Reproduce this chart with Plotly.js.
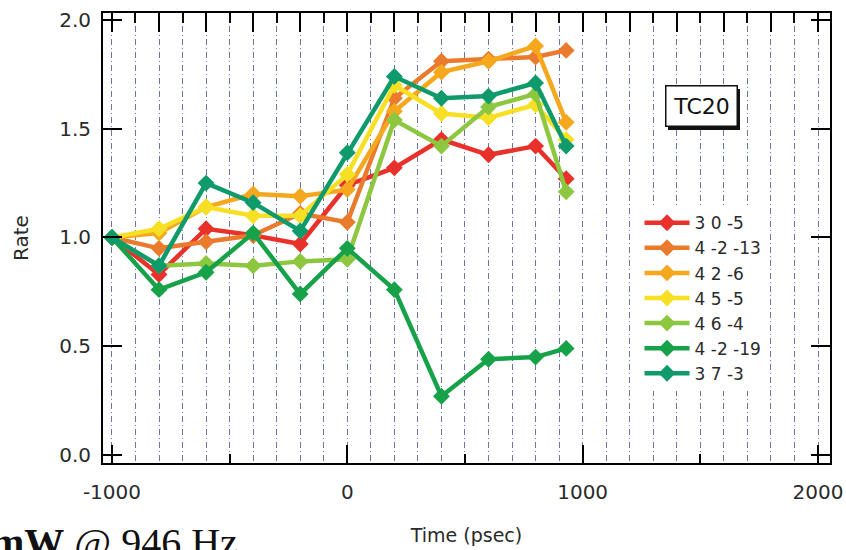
<!DOCTYPE html>
<html>
<head>
<meta charset="utf-8">
<script src="https://cdn.plot.ly/plotly-3.0.1.min.js"></script>
<style>html,body{margin:0;padding:0;background:#fff;}#chart{width:846px;height:550px;}</style>
</head>
<body>
<div id="chart"></div>
<script>
const timePs = [-1000, -800, -600, -400, -200, 0, 200, 400, 600, 800, 930];

const seriesNames = ["3 0 -5", "4 -2 -13", "4 2 -6", "4 5 -5", "4 6 -4", "4 -2 -19", "3 7 -3"];
const seriesColors = ["#e8312a", "#ea7a2c", "#f5a81e", "#f7e024", "#8dc63f", "#17a24a", "#0f9a6c"];

const rate_3_0_m5   = [1.00, 0.83, 1.04, 1.01, 0.97, 1.24, 1.32, 1.45, 1.38, 1.42, 1.27];
const rate_4_m2_m13 = [1.00, 0.95, 0.98, 1.01, 1.11, 1.07, 1.64, 1.81, 1.82, 1.83, 1.86];
const rate_4_2_m6   = [1.00, 1.02, 1.14, 1.20, 1.19, 1.22, 1.58, 1.76, 1.81, 1.88, 1.53];
const rate_4_5_m5   = [1.00, 1.04, 1.14, 1.10, 1.10, 1.29, 1.70, 1.57, 1.55, 1.61, 1.45];
const rate_4_6_m4   = [1.00, 0.87, 0.88, 0.87, 0.89, 0.90, 1.54, 1.42, 1.60, 1.66, 1.21];
const rate_4_m2_m19 = [1.00, 0.76, 0.84, 1.02, 0.74, 0.95, 0.76, 0.27, 0.44, 0.45, 0.49];
const rate_3_7_m3   = [1.00, 0.87, 1.25, 1.16, 1.03, 1.39, 1.74, 1.64, 1.65, 1.71, 1.42];

const seriesValues = [rate_3_0_m5, rate_4_m2_m13, rate_4_2_m6, rate_4_5_m5, rate_4_6_m4, rate_4_m2_m19, rate_3_7_m3];

const yTickVals = [0, 0.5, 1.0, 1.5, 2.0];
const yTickText = ["0.0", "0.5", "1.0", "1.5", "2.0"];
const xTickVals = [-1000, 0, 1000, 2000];
const xTickText = ["-1000", "0", "1000", "2000"];

const FONT = "DejaVu Sans, Verdana, sans-serif";
const TXT = "#2a2a2a";

const traces = seriesNames.map((name, i) => ({
  type: "scatter",
  mode: "lines+markers",
  name: name,
  x: timePs,
  y: seriesValues[i],
  line: {color: seriesColors[i], width: 4.5},
  marker: {symbol: "diamond", size: 13, color: seriesColors[i]}
}));

// empty helper trace so the top and right axes (grid + ticks) are drawn
traces.unshift({type: "scatter", x: [], y: [], xaxis: "x2", yaxis: "y2", showlegend: false, hoverinfo: "skip"});

const xRange = [-1038, 2051];
const yRange = [-0.037, 2.032];
const gridColor = "rgba(60,70,140,0.75)";

const layout = {
  width: 846, height: 550,
  paper_bgcolor: "#fff", plot_bgcolor: "#fff",
  margin: {l: 103, r: 16, t: 13, b: 87},
  font: {family: FONT, size: 17, color: TXT},
  showlegend: true,
  legend: {
    x: 0.738, y: 0.573, xanchor: "left", yanchor: "top",
    bgcolor: "#fff", borderwidth: 0, itemwidth: 45,
    font: {family: FONT, size: 17, color: TXT},
    tracegroupgap: 0
  },
  xaxis: {
    range: xRange, tickvals: xTickVals, ticktext: xTickText,
    ticks: "inside", ticklen: 18, tickwidth: 2, tickcolor: "#000",
    minor: {dtick: 500, tick0: 0, ticks: "inside", ticklen: 9, tickwidth: 2, tickcolor: "#000", showgrid: false},
    showline: true, linecolor: "#000", linewidth: 2, mirror: true,
    showgrid: false, zeroline: false,
    ticklabelstandoff: 10,
    tickfont: {family: FONT, size: 20, color: TXT},
    title: {text: "Time (psec)", font: {family: FONT, size: 19, color: TXT}, standoff: 26}
  },
  xaxis2: {
    overlaying: "x", side: "top", anchor: "y2", range: xRange,
    tick0: 0, dtick: 200,
    ticks: "inside", ticklen: 19, tickwidth: 2, tickcolor: "#000",
    showticklabels: false,
    showgrid: true, gridcolor: gridColor, gridwidth: 1, griddash: "6px,3px,1px,3px",
    minor: {dtick: 100, tick0: 0, ticks: "inside", ticklen: 10, tickwidth: 2, tickcolor: "#000",
            showgrid: true, gridcolor: gridColor, gridwidth: 1, griddash: "6px,3px,1px,3px"},
    showline: false, zeroline: false
  },
  yaxis: {
    range: yRange, tickvals: yTickVals, ticktext: yTickText,
    ticks: "inside", ticklen: 19, tickwidth: 2, tickcolor: "#000",
    showline: true, linecolor: "#000", linewidth: 2, mirror: true,
    showgrid: false, zeroline: false,
    ticklabelstandoff: 6,
    tickfont: {family: FONT, size: 20, color: TXT},
    title: {text: "Rate", font: {family: FONT, size: 20, color: TXT}, standoff: 25}
  },
  yaxis2: {
    overlaying: "y", side: "right", anchor: "x2", range: yRange, tickvals: yTickVals,
    ticks: "inside", ticklen: 19, tickwidth: 2, tickcolor: "#000",
    showticklabels: false, showline: false, showgrid: false, zeroline: false
  },
  shapes: [
    {type: "rect", xref: "paper", yref: "paper", layer: "above",
     x0: 0.7772, x1: 0.8762, y0: 0.740, y1: 0.8311,
     fillcolor: "#111", line: {width: 0}}
  ],
  annotations: [
    {xref: "paper", yref: "paper", x: 0.8226, y: 0.793, xanchor: "center", yanchor: "middle",
     text: "TC20", showarrow: false, width: 68, height: 37, bgcolor: "#fff", bordercolor: "#111", borderwidth: 1.5,
     font: {family: FONT, size: 22, color: "#111"}},
    {xref: "paper", yref: "paper", x: 0.188, y: -0.232, xanchor: "right", yanchor: "bottom",
     text: "<b>mW</b> @ 946 Hz", showarrow: false,
     font: {family: "Liberation Serif, Times New Roman, serif", size: 40, color: "#111"}}
  ]
};

Plotly.newPlot("chart", traces, layout, {displayModeBar: false, staticPlot: true});
</script>
</body>
</html>
